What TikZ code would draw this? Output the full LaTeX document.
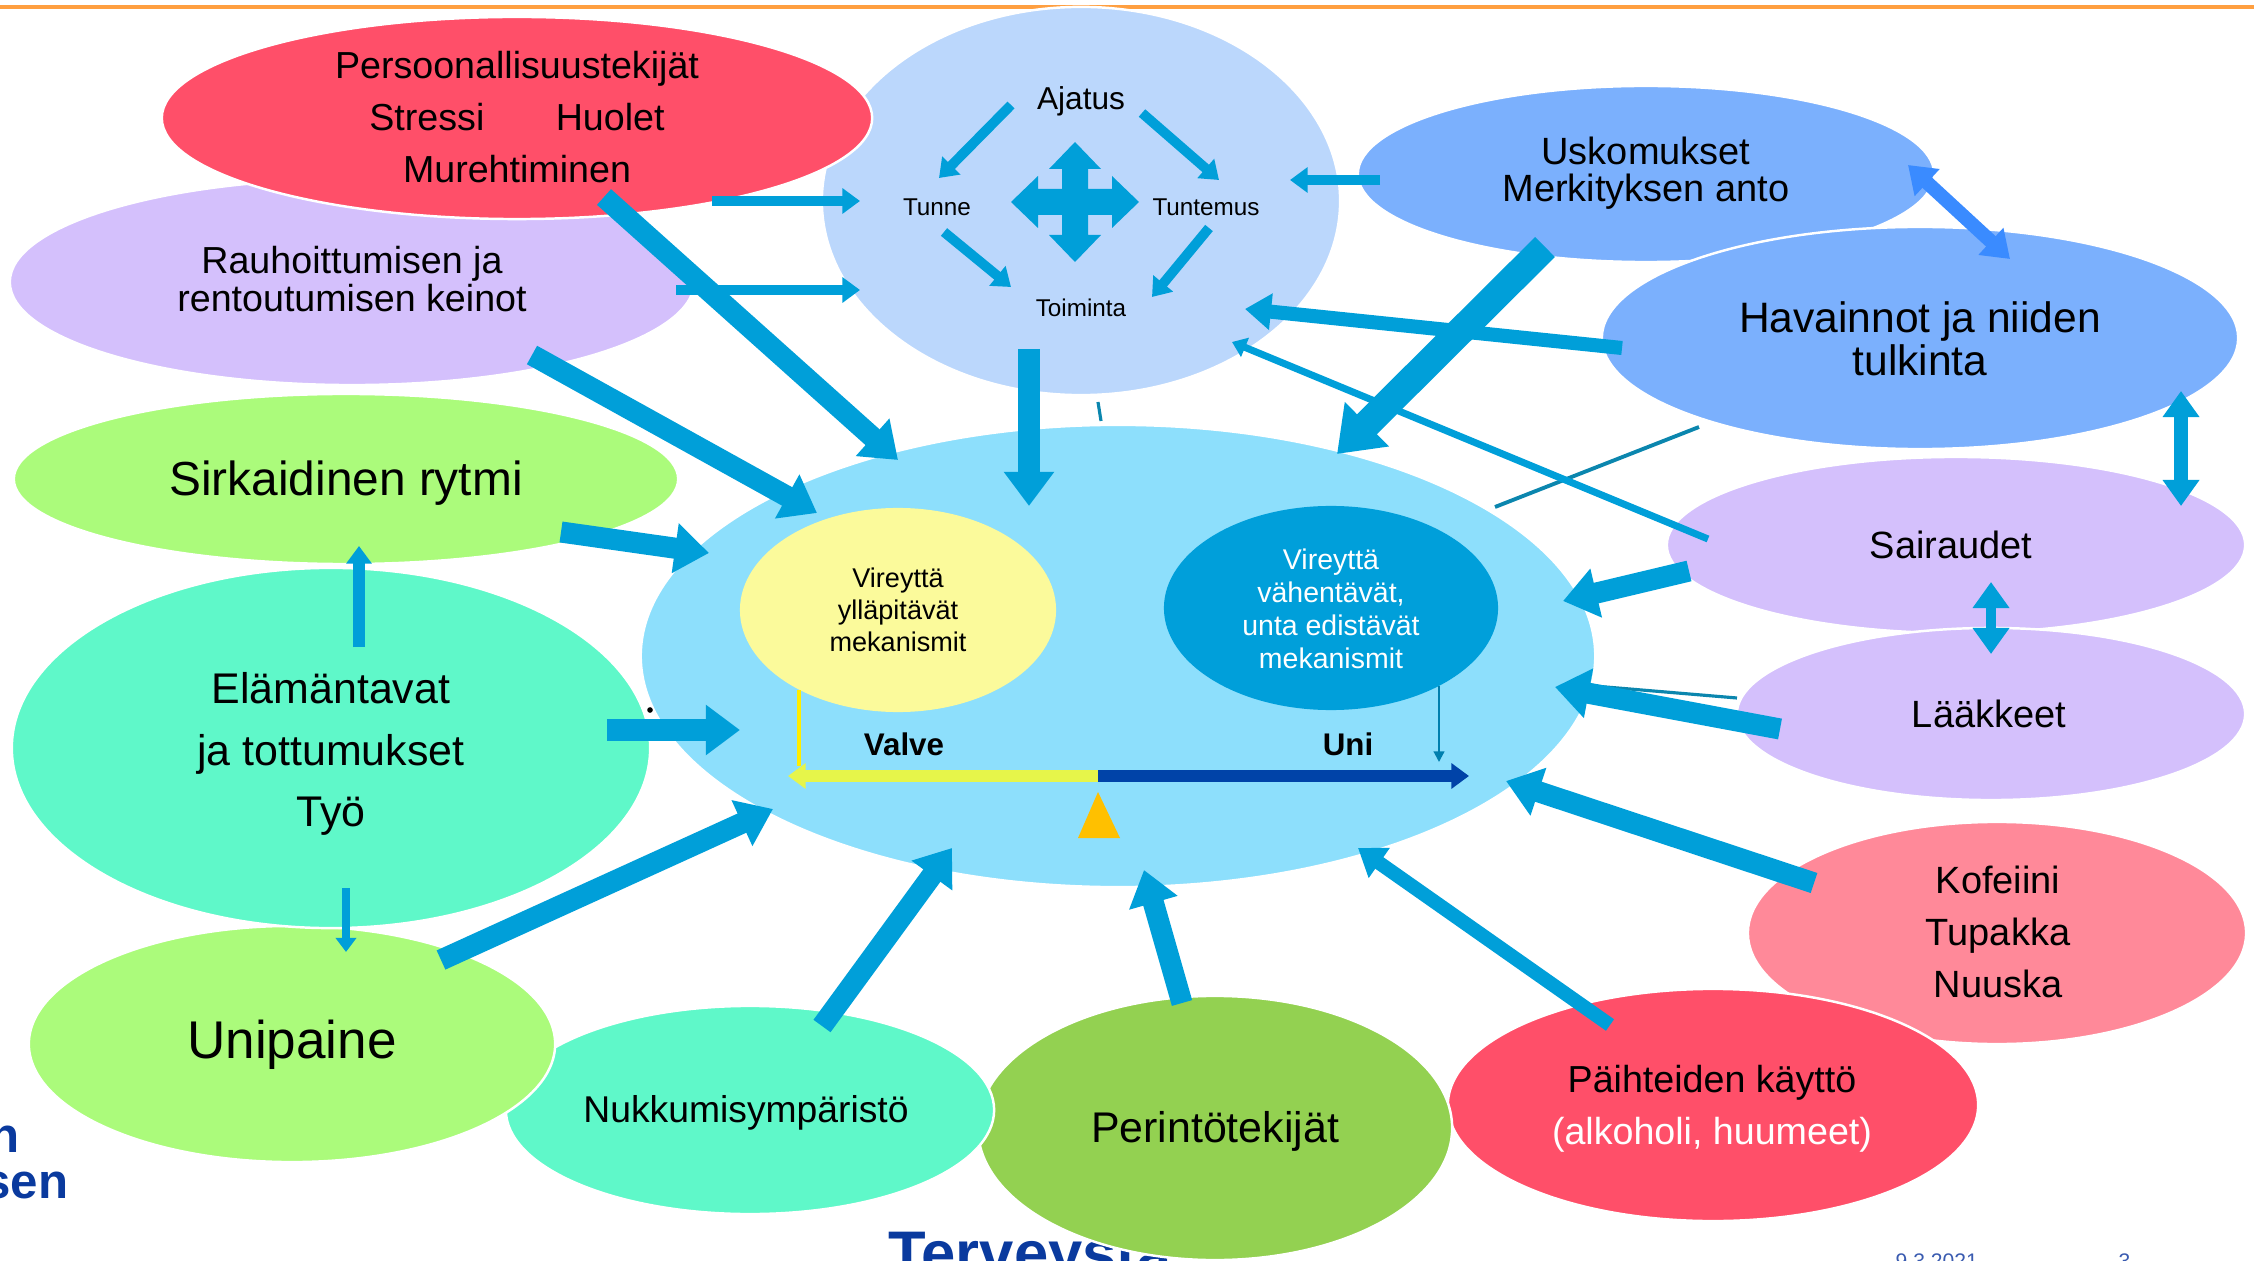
\documentclass[tikz,border=0pt]{standalone}
\usepackage{fontspec}
\setmainfont{Liberation Sans}
\usetikzlibrary{arrows.meta,positioning,calc}
\usetikzlibrary{shapes.geometric}

\definecolor{nuoli}{HTML}{009FD9}
\definecolor{punainen}{HTML}{FF4F69}
\definecolor{liila}{HTML}{D4C0FC}
\definecolor{vaalsin}{HTML}{BBD7FC}
\definecolor{sininen}{HTML}{7BB0FD}
\definecolor{vihrea}{HTML}{ABFB7B}
\definecolor{minttu}{HTML}{5FF8C9}
\definecolor{taivas}{HTML}{8DDFFC}
\definecolor{keltainen}{HTML}{FBFA9B}
\definecolor{tumma}{HTML}{009FDA}
\definecolor{pinkki}{HTML}{FF8999}
\definecolor{ruoho}{HTML}{93D151}
\definecolor{oranssi}{HTML}{FFC000}
\definecolor{palkki}{HTML}{E6F54A}
\definecolor{laivasto}{HTML}{0043A8}
\definecolor{kirkas}{HTML}{3A8BFF}
\definecolor{logo}{HTML}{0A3A9E}
\definecolor{sivu}{HTML}{3A5BB0}
\definecolor{viiva}{HTML}{0B86AE}

\begin{document}
\begin{tikzpicture}[x=0.01cm, y=-0.01cm,
    pallo/.style={ellipse, draw=white, line width=0.7pt, inner sep=0pt},
    teksti/.style={align=center, inner sep=0pt},
    paksu/.style={draw=nuoli, line width=6pt, -{Triangle[length=9.7pt,width=13.7pt]}},
    jykeva/.style={draw=nuoli, line width=8pt, -{Triangle[length=12pt,width=17pt]}},
    puoli/.style={draw=nuoli, line width=4pt, -{Triangle[length=7.4pt,width=10pt]}},
    ohut/.style={draw=nuoli, line width=2.8pt, -{Triangle[length=5pt,width=7pt]}},
    hento/.style={draw=nuoli, line width=2pt, -{Triangle[length=4pt,width=5.7pt]}},
    kaksi/.style={draw=nuoli, line width=4pt, {Triangle[length=7.4pt,width=10pt]}-{Triangle[length=7.4pt,width=10pt]}},
  ]

  \useasboundingbox (0,0) rectangle (2254,1261);
  \clip (0,0) rectangle (2254,1261);

  \draw[orange!75, line width=1pt] (0,7) -- (2254,7);

  % alareunan tekstit
  \node[font=\fontsize{14}{14}\selectfont\bfseries, text=logo, anchor=base east, inner sep=0pt] at (20,1152) (reuna1) {n};
  \node[font=\fontsize{14}{14}\selectfont\bfseries, text=logo, anchor=base east, inner sep=0pt] at (69,1198) (reuna2) {sen};
  \node[font=\fontsize{17.5}{17.5}\selectfont\bfseries, text=logo, anchor=north west, inner sep=0pt] at (888,1231) (talo) {Terveysta};
  \node[font=\fontsize{6}{6}\selectfont, text=sivu, anchor=north west, inner sep=0pt] at (1895,1253) (pvm) {9.3.2021};
  \node[font=\fontsize{6}{6}\selectfont, text=sivu, anchor=north west, inner sep=0pt] at (2118,1253) (sivunro) {3};

  % pallot
  \node[pallo, fill=liila, minimum width=6.84cm, minimum height=2.06cm] at (352,282) (rauha) {};
  \node[pallo, fill=vaalsin, minimum width=5.18cm, minimum height=3.88cm] at (1081,201) (ajatus) {};
  \node[pallo, fill=punainen, minimum width=7.10cm, minimum height=2.02cm] at (517,118) (persoona) {};
  \node[pallo, fill=sininen, minimum width=5.76cm, minimum height=1.76cm] at (1646,174) (usko) {};
  \node[pallo, fill=sininen, minimum width=6.36cm, minimum height=2.22cm] at (1920,338) (havainto) {};
  \node[pallo, fill=vihrea, minimum width=6.64cm, minimum height=1.70cm] at (346,479) (sirka) {};
  \node[pallo, fill=liila, minimum width=5.78cm, minimum height=1.76cm] at (1956,545) (sairaus) {};
  \node[pallo, fill=liila, minimum width=5.08cm, minimum height=1.72cm] at (1991,714) (laake) {};
  \node[pallo, fill=pinkki, minimum width=4.98cm, minimum height=2.22cm] at (1997,933) (kofeiini) {};
  \node[pallo, fill=punainen, minimum width=5.30cm, minimum height=2.32cm] at (1713,1105) (paihde) {};
  \node[pallo, fill=ruoho, minimum width=4.74cm, minimum height=2.64cm] at (1215,1128) (perinto) {};
  \node[pallo, fill=minttu, minimum width=4.88cm, minimum height=2.08cm] at (750,1110) (nukkuma) {};
  \node[pallo, fill=vihrea, minimum width=5.26cm, minimum height=2.36cm] at (292,1044) (unipaine) {};
  \node[pallo, fill=minttu, minimum width=6.38cm, minimum height=3.60cm] at (331,748) (elama) {};
  \node[pallo, fill=taivas, minimum width=9.54cm, minimum height=4.62cm] at (1118,656) (vire) {};
  \node[pallo, draw=none, fill=keltainen, minimum width=3.16cm, minimum height=2.04cm] at (898,610) (ylla) {};
  \node[pallo, draw=none, fill=tumma, minimum width=3.34cm, minimum height=2.04cm] at (1331,608) (vahenta) {};

  % tekstit
  \node[teksti, font=\fontsize{10.7}{14.8}\selectfont] at (517,117) (personaT) {Persoonallisuustekijät\\Stressi\hspace{1.9em}Huolet\\Murehtiminen};
  \node[teksti, font=\fontsize{10.7}{10.7}\selectfont] at (352,279) (rauhaT) {Rauhoittumisen ja\\rentoutumisen keinot};
  \node[teksti, font=\fontsize{9}{9}\selectfont] at (1081,101) (ajatusT) {Ajatus};
  \node[teksti, font=\fontsize{6.9}{6.9}\selectfont] at (937,207) (tunneT) {Tunne};
  \node[teksti, font=\fontsize{6.9}{6.9}\selectfont] at (1206,207) (tuntemusT) {Tuntemus};
  \node[teksti, font=\fontsize{6.9}{6.9}\selectfont] at (1081,308) (toimintaT) {Toiminta};
  \node[teksti, font=\fontsize{10.8}{10.6}\selectfont] at (1646,173) (uskoT) {Uskomukset\\Merkityksen anto};
  \node[teksti, font=\fontsize{12.1}{12.2}\selectfont] at (1920,339) (havaintoT) {Havainnot ja niiden\\tulkinta};
  \node[teksti, font=\fontsize{13.6}{13.6}\selectfont] at (346,483) (sirkaT) {Sirkaidinen rytmi};
  \node[teksti, font=\fontsize{12.2}{17.4}\selectfont] at (331,754) (elamaT) {Elämäntavat\\ja tottumukset\\Työ};
  \node[teksti, font=\fontsize{15.1}{15.1}\selectfont] at (292,1045) (unipaineT) {Unipaine};
  \node[teksti, font=\fontsize{10.6}{10.6}\selectfont] at (746,1113) (nukkumaT) {Nukkumisympäristö};
  \node[teksti, font=\fontsize{12.2}{12.2}\selectfont] at (1215,1131) (perintoT) {Perintötekijät};
  \node[teksti, font=\fontsize{10.8}{10.8}\selectfont] at (1951,545) (sairausT) {Sairaudet};
  \node[teksti, font=\fontsize{10.8}{10.8}\selectfont] at (1989,714) (laakeT) {Lääkkeet};
  \node[teksti, font=\fontsize{10.8}{14.8}\selectfont] at (1998,932) (kofeiiniT) {Kofeiini\\Tupakka\\Nuuska};
  \node[teksti, font=\fontsize{10.7}{14.8}\selectfont] at (1712,1109) (paihdeT) {Päihteiden käyttö\\\textcolor{white}{(alkoholi, huumeet)}};
  \node[teksti, font=\fontsize{7.7}{9.1}\selectfont] at (898,610) (yllaT) {Vireyttä\\ylläpitävät\\mekanismit};
  \node[teksti, font=\fontsize{8.1}{9.4}\selectfont, text=white] at (1331,609) (vahentaT) {Vireyttä\\vähentävät,\\unta edistävät\\mekanismit};
  \node[teksti, font=\fontsize{8.9}{8.9}\selectfont\bfseries] at (904,744) (valve) {Valve};
  \node[teksti, font=\fontsize{8.9}{8.9}\selectfont\bfseries] at (1348,744) (uni) {Uni};

  % nuolet keskelle
  \coordinate (l1) at (604,197);   \coordinate (k1) at (898,460);
  \coordinate (l2) at (532,355);   \coordinate (k2) at (817,513);
  \coordinate (l3) at (561,532);   \coordinate (k3) at (709,553);
  \coordinate (l4) at (607,730);   \coordinate (k4) at (740,730);
  \coordinate (l5) at (441,960);   \coordinate (k5) at (773,809);
  \coordinate (l6) at (822,1026);  \coordinate (k6) at (952,848);
  \coordinate (l7) at (1182,1003); \coordinate (k7) at (1144,870);
  \coordinate (l8) at (1610,1025); \coordinate (k8) at (1358,848);
  \coordinate (l9) at (1814,883);  \coordinate (k9) at (1506,781);
  \coordinate (l10) at (1780,729); \coordinate (k10) at (1555,687);
  \coordinate (l11) at (1689,571); \coordinate (k11) at (1563,601);
  \coordinate (l14) at (1545,247); \coordinate (k14) at (1337,454);
  \coordinate (l19) at (1029,349); \coordinate (k19) at (1029,506);

  % nuolet ajatukseen
  \coordinate (l12) at (1622,348); \coordinate (k12) at (1245,309);
  \coordinate (l13) at (1708,539); \coordinate (k13) at (1232,342);
  \coordinate (l15) at (1380,180); \coordinate (k15) at (1290,180);
  \coordinate (l22) at (712,201);  \coordinate (k22) at (860,201);
  \coordinate (l23) at (676,290);  \coordinate (k23) at (860,290);

  % kaksisuuntaiset ja pienet
  \coordinate (u1) at (1908,165);  \coordinate (u2) at (2010,259);
  \coordinate (h1) at (2181,391);  \coordinate (h2) at (2181,506);
  \coordinate (s1) at (1991,582);  \coordinate (s2) at (1991,654);
  \coordinate (l20) at (359,647);  \coordinate (k20) at (359,546);
  \coordinate (l21) at (346,888);  \coordinate (k21) at (346,952);

  % ohuet viivat
  \coordinate (v1) at (1495,507);  \coordinate (v2) at (1699,427);
  \coordinate (v3) at (1737,698);  \coordinate (v4) at (1594,686);
  \coordinate (v5) at (1098,402);  \coordinate (v6) at (1101,421);
  \draw[viiva, line width=1.1pt] (v1) -- (v2);
  \draw[viiva, line width=0.9pt] (v3) -- (v4);
  \draw[viiva, line width=0.9pt] (v5) -- (v6);

  \draw[hento] (l13) -- (k13);
  \draw[puoli] (l12) -- (k12);
  \draw[ohut] (l15) -- (k15);
  \draw[ohut] (l22) -- (k22);
  \draw[ohut] (l23) -- (k23);

  \draw[paksu] (l1) -- (k1);
  \draw[paksu] (l2) -- (k2);
  \draw[paksu] (l3) -- (k3);
  \draw[paksu] (l4) -- (k4);
  \draw[paksu] (l5) -- (k5);
  \draw[paksu] (l6) -- (k6);
  \draw[paksu] (l7) -- (k7);
  \draw[puoli] (l8) -- (k8);
  \draw[paksu] (l9) -- (k9);
  \draw[paksu] (l10) -- (k10);
  \draw[paksu] (l11) -- (k11);
  \draw[jykeva] (l14) -- (k14);
  \draw[paksu] (l19) -- (k19);

  \draw[kaksi, draw=kirkas] (u1) -- (u2);
  \draw[kaksi] (h1) -- (h2);
  \draw[kaksi, line width=3pt] (s1) -- (s2);
  \draw[ohut, line width=3.2pt] (l20) -- (k20);
  \draw[hento] (l21) -- (k21);

  % ajatuksen sisalla
  \coordinate (i1) at (1011,105); \coordinate (j1) at (939,178);
  \coordinate (i2) at (1142,113); \coordinate (j2) at (1219,180);
  \coordinate (i3) at (944,232);  \coordinate (j3) at (1011,287);
  \coordinate (i4) at (1209,228); \coordinate (j4) at (1152,297);
  \draw[ohut] (i1) -- (j1);
  \draw[ohut] (i2) -- (j2);
  \draw[ohut] (i3) -- (j3);
  \draw[ohut] (i4) -- (j4);

  \coordinate (risti) at (1075,202);
  \fill[nuoli, shift={(risti)}] (0,-60) -- (26,-33) -- (13,-33) -- (13,-13) -- (37,-13) -- (37,-26) -- (64,0) -- (37,26) -- (37,13) -- (13,13) -- (13,33) -- (26,33) -- (0,60) -- (-26,33) -- (-13,33) -- (-13,13) -- (-37,13) -- (-37,26) -- (-64,0) -- (-37,-26) -- (-37,-13) -- (-13,-13) -- (-13,-33) -- (-26,-33) -- cycle;

  % valve - uni
  \coordinate (vaaka) at (1098,776);
  \coordinate (valvepaa) at (788,776);
  \coordinate (unipaa) at (1469,776);
  \coordinate (y1) at (799,690);   \coordinate (y2) at (799,766);
  \coordinate (t1) at (1439,686);  \coordinate (t2) at (1439,762);
  \draw[palkki, line width=3.4pt, -{Triangle[length=5pt,width=7pt]}] (vaaka) -- (valvepaa);
  \draw[laivasto, line width=3.4pt, -{Triangle[length=5pt,width=7pt]}] (vaaka) -- (unipaa);
  \draw[yellow!95!orange, line width=0.9pt] (y1) -- (y2);
  \draw[nuoli!80!black, line width=0.6pt, -{Triangle[length=3pt,width=3pt]}] (t1) -- (t2);
  \fill[oranssi] (1098,792) -- (1120,838) -- (1078,838) -- cycle;

  \fill (650,710) circle[radius=0.8pt];

\end{tikzpicture}
\end{document}
